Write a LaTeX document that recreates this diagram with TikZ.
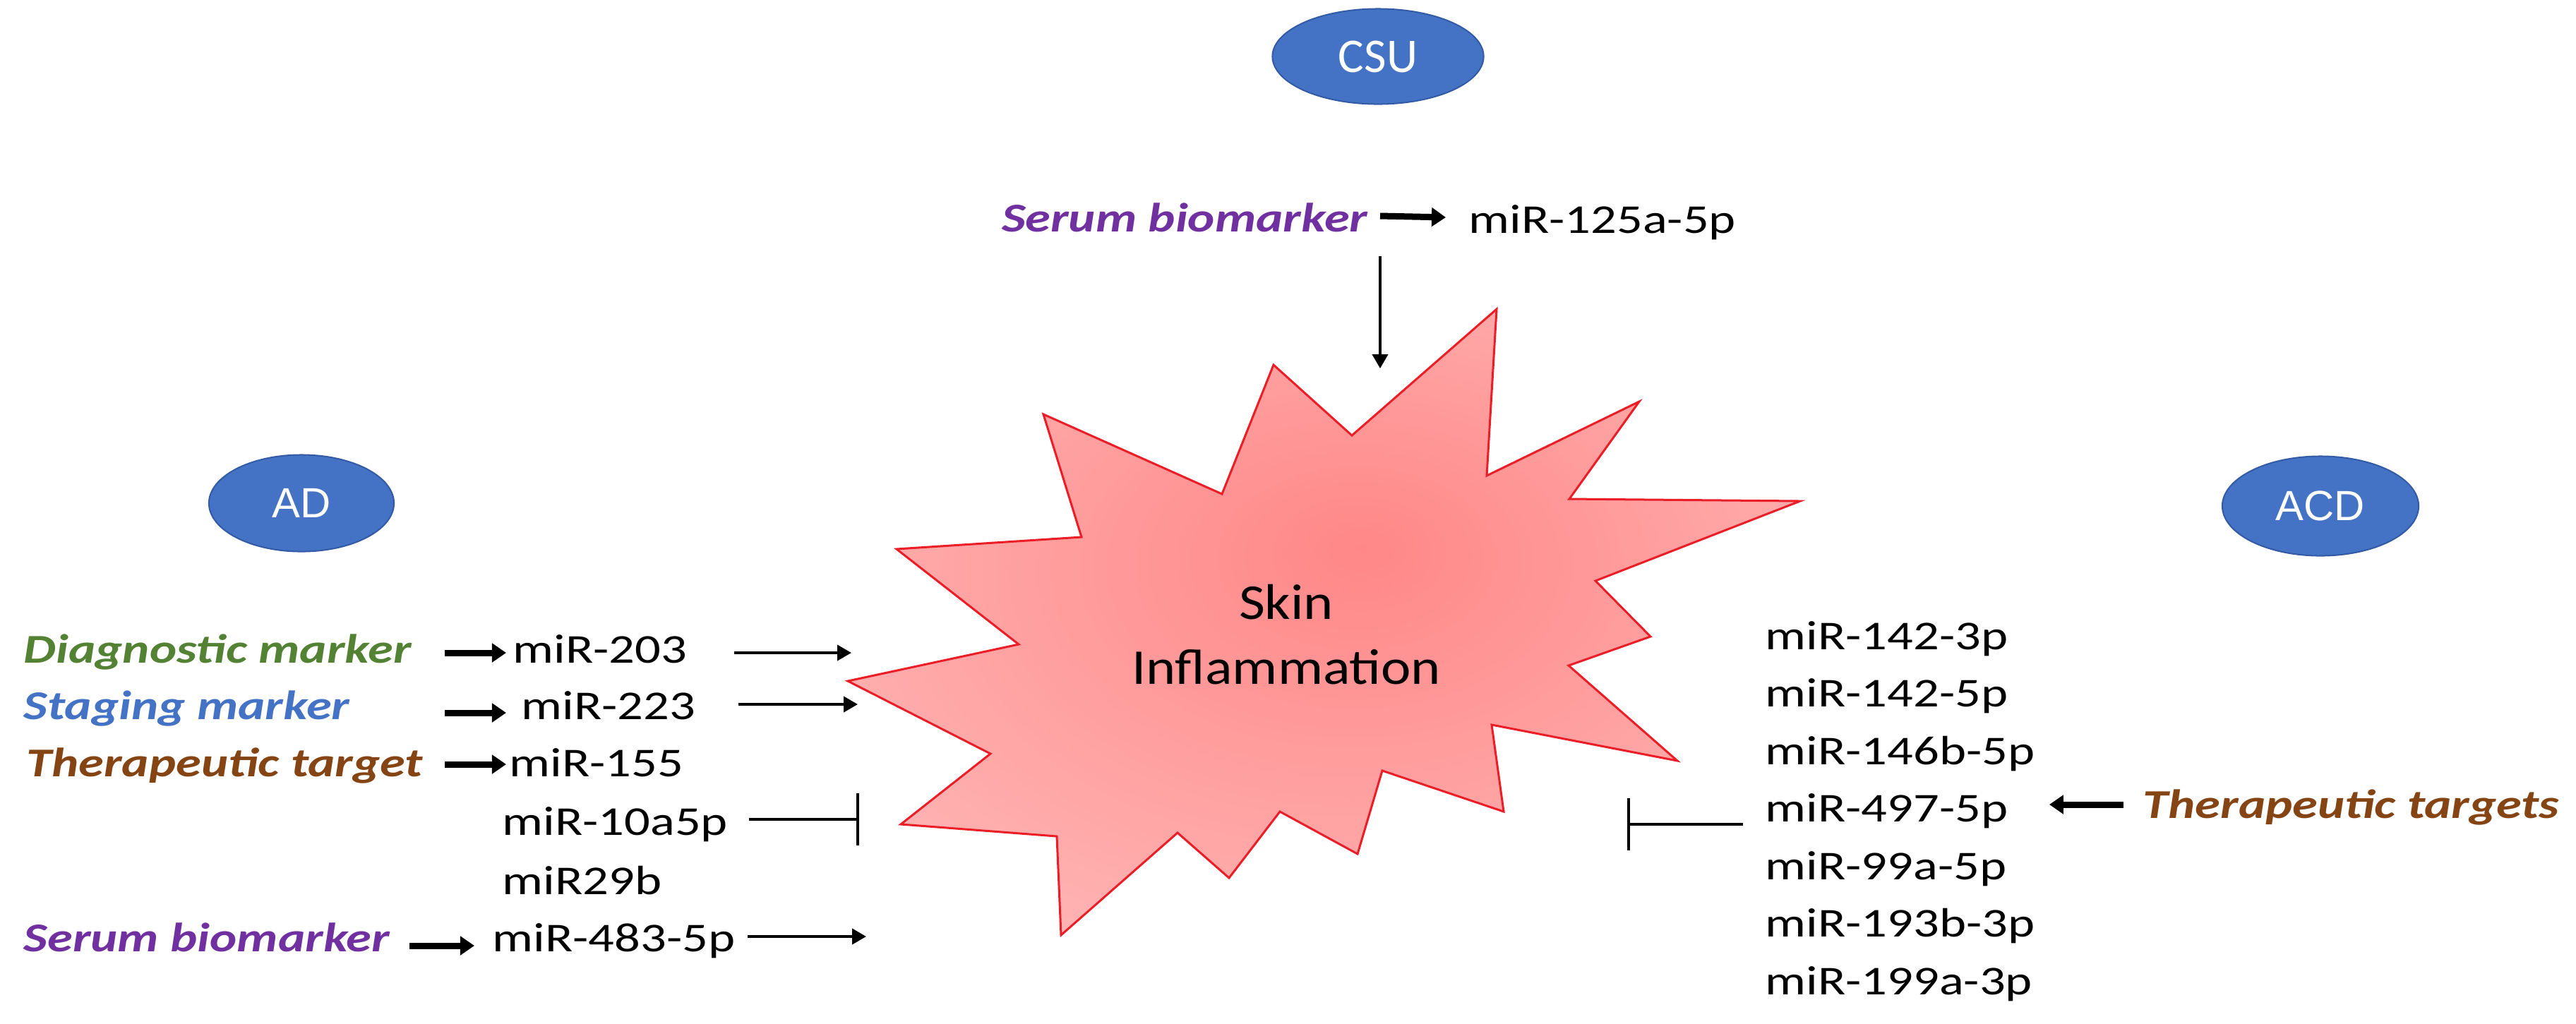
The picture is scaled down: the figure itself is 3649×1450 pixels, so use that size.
\documentclass[tikz,border=0pt]{standalone}
\usepackage{fontspec}
\setmainfont{Carlito}
\newfontfamily\mirfont[FakeStretch=1.25]{Carlito}
\newfontfamily\skinfont[FakeStretch=1.13]{Carlito}
\newfontfamily\arialfont{Liberation Sans}
\usetikzlibrary{arrows.meta,shapes.geometric,calc}
\definecolor{dgreen}{RGB}{84,130,53}
\definecolor{sblue}{RGB}{68,114,196}
\definecolor{tbrown}{RGB}{133,68,20}
\definecolor{spurple}{RGB}{112,48,160}
\definecolor{ovalfill}{RGB}{68,114,196}
\definecolor{ovaledge}{RGB}{50,90,165}
\definecolor{starin}{RGB}{255,135,135}
\definecolor{starout}{RGB}{255,198,198}
\definecolor{starline}{RGB}{235,30,40}
\pgfdeclareradialshading{starshade}{\pgfpoint{2bp}{6bp}}{color(0bp)=(starin); color(44bp)=(starout); color(50bp)=(starout)}
\begin{document}
\begin{tikzpicture}[x=0.01cm, y=-0.01cm,
  mir/.style={inner sep=0pt, anchor=base west, font=\mirfont\fontsize{16.5}{19}\selectfont},
  lab/.style={inner sep=0pt, anchor=base west, font=\mirfont\bfseries\itshape\fontsize{16.5}{19}\selectfont},
  thinarr/.style={line width=0.04cm, -{Triangle[width=0.22cm,length=0.2cm]}},
  thickarr/.style={line width=0.09cm, -{Triangle[width=0.26cm,length=0.2cm]}},
  inhib/.style={line width=0.04cm, -{Bar[width=0.74cm]}},
  disease/.style={ellipse, fill=ovalfill, draw=ovaledge, line width=0.02cm, inner sep=0pt, text=white}]
\useasboundingbox (0,0) rectangle (3649,1450);

% star
\shadedraw[shading=starshade, draw=starline, line width=0.03cm, line join=miter]
  (1270,778) -- (1532,761) -- (1478,587) -- (1731,700) -- (1804,517) -- (1915,617)
  -- (2120,438) -- (2106,674) -- (2322,569) -- (2223,707) -- (2550,710) -- (2260,823)
  -- (2338,902) -- (2222,943) -- (2376,1078) -- (2113,1027) -- (2130,1150) -- (1958,1092)
  -- (1923,1210) -- (1813,1150) -- (1741,1244) -- (1668,1180) -- (1503,1325) -- (1497,1185)
  -- (1276,1168) -- (1403,1068) -- (1201,965) -- (1443,913) -- cycle;
\node[font=\skinfont\fontsize{20.2}{26.2}\selectfont, align=center, inner sep=0pt] (skin) at (1822,899) {Skin\\Inflammation};

% connector end points on the star
\coordinate (e1) at (1206,925);
\coordinate (e2) at (1215,998);
\coordinate (e4) at (1217,1161);
\coordinate (e6) at (1227,1327);
\coordinate (rb) at (2305,1168);
\coordinate (ct) at (1955,522);

% disease ovals
\node[disease, minimum width=2.62cm, minimum height=1.37cm, font=\arialfont\fontsize{17}{20}\selectfont] (ad) at (427,713) {AD};
\node[disease, minimum width=2.99cm, minimum height=1.35cm, font=\fontsize{19.5}{22}\selectfont] (csu) at (1952,80) {CSU};
\node[disease, minimum width=2.78cm, minimum height=1.41cm, font=\arialfont\fontsize{17}{20}\selectfont] (acd) at (3287,717) {ACD};

% left (AD)
\node[lab, text=dgreen] (d1) at (33,939) {Diagnostic marker};
\node[lab, text=sblue] (s1) at (33,1019) {Staging marker};
\node[lab, text=tbrown] (t1) at (37,1100) {Therapeutic target};
\node[lab, text=spurple] (sb) at (33,1348) {Serum biomarker};
\node[mir] (m1) at (726,939) {miR-203};
\node[mir] (m2) at (738,1019) {miR-223};
\node[mir] (m3) at (721,1100) {miR-155};
\node[mir] (m4) at (711,1183) {miR-10a5p};
\node[mir] (m5) at (711,1267) {miR29b};
\node[mir] (m6) at (697,1348) {miR-483-5p};

\draw[thickarr] ($(d1.base east -| m1.base west)+(-96,-14)$) -- ($(m1.base west)+(-9,-14)$);
\draw[thickarr] ($(s1.base east -| m2.base west)+(-108,-9)$) -- ($(m2.base west)+(-21,-9)$);
\draw[thickarr] ($(t1.base east -| m3.base west)+(-91,-17)$) -- ($(m3.base west)+(-4,-17)$);
\draw[thickarr] ($(sb.base east -| m6.base west)+(-117,-8)$) -- ($(m6.base west)+(-25,-8)$);

\draw[thinarr] ($(e1 -| m1.base east)+(66,0)$) -- (e1);
\draw[thinarr] ($(e2 -| m2.base east)+(60,0)$) -- (e2);
\draw[inhib] ($(e4 -| m4.base east)+(29,0)$) -- (e4);
\draw[thinarr] ($(e6 -| m6.base east)+(17,0)$) -- (e6);

% top (CSU)
\node[lab, text=spurple, anchor=base east] (sbt) at (1938,328) {Serum biomarker};
\node[mir] (mt) at (2080,330) {miR-125a-5p};
\draw[thickarr] ($(sbt.base east -| mt.base west)+(-125,-22)$) -- ($(mt.base west)+(-32,-22)$);
\draw[thinarr] ($(sbt.base east)+(17,35)$) -- (ct);

% right (ACD)
\node[mir] (r1) at (2500,920) {miR-142-3p};
\node[mir] (r2) at (2500,1001.5) {miR-142-5p};
\node[mir] (r3) at (2500,1083) {miR-146b-5p};
\node[mir] (r4) at (2500,1164.5) {miR-497-5p};
\node[mir] (r5) at (2500,1246) {miR-99a-5p};
\node[mir] (r6) at (2500,1327.5) {miR-193b-3p};
\node[mir] (r7) at (2500,1409) {miR-199a-3p};
\node[lab, text=tbrown] (tt) at (3035,1159) {Therapeutic targets};
\draw[thickarr] ($(tt.base west)+(-27,-19)$) -- ($(tt.base west -| r4.base east)+(58,-19)$);
\draw[inhib] ($(rb -| r4.base west)+(-31,0)$) -- (rb);
\end{tikzpicture}
\end{document}
